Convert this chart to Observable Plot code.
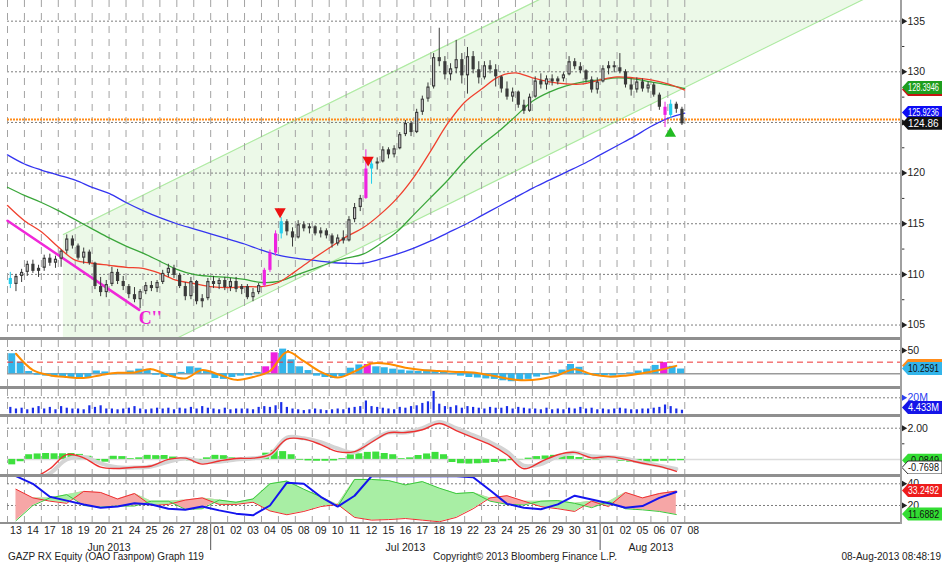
<!DOCTYPE html>
<html><head><meta charset="utf-8">
<script src="https://cdn.jsdelivr.net/npm/d3@7"></script>
<script src="https://cdn.jsdelivr.net/npm/@observablehq/plot@0.6"></script>
<style>
body{margin:0;background:#fff;}
#chart{position:relative;width:942px;height:562px;overflow:hidden;background:#fff;font-family:"Liberation Sans",Arial,sans-serif;}
#chart svg{position:absolute;left:0;}
.sep{position:absolute;left:0;width:901px;background:#8f8f8f;}
.foot{position:absolute;top:551px;font-size:10px;line-height:12px;color:#222;white-space:nowrap;}
</style></head><body><div id="chart"></div>
<script>
// ---------- DATA ----------
const dayLabels = ["13","14","17","18","19","20","21","24","25","26","27","28","01","02","03","04","05","08","09","10","11","12","15","16","17","18","19","22","23","24","25","26","29","30","31","01","02","05","06","07","08"];
const monthLabels = ["Jun 2013","Jul 2013","Aug 2013"];
const monthStart = [0, 12, 35];
const monthEnd = [12, 35, 41];

// intraday candles, 3 per trading day: [open, high, low, close]
const bars = [
[109.6,110.2,108.6,109.0],[109.0,110.0,108.3,109.8],[109.8,110.5,109.2,110.2],
[110.2,111.3,109.8,111.0],[111.0,111.4,110.1,110.3],[110.3,110.9,109.7,110.6],
[110.6,111.9,110.3,111.6],[111.6,112.0,110.8,111.1],[111.1,111.8,110.6,111.5],
[111.5,112.4,110.7,112.3],[112.3,113.9,112.0,113.5],[113.5,113.8,112.5,112.8],
[112.8,113.0,111.4,111.6],[111.6,112.6,111.0,112.2],[112.2,112.4,110.9,111.1],
[111.1,111.2,108.5,108.8],[108.8,109.7,107.8,108.2],[108.2,109.4,107.7,109.0],
[109.0,110.7,108.8,110.2],[110.2,110.5,109.0,109.3],[109.3,109.8,108.4,108.8],
[108.8,109.0,107.6,108.0],[108.0,108.7,107.2,107.5],[107.5,108.5,106.6,108.3],
[108.3,109.2,108.0,108.9],[108.9,109.3,108.3,108.6],[108.6,109.4,108.2,109.2],
[109.2,110.4,109.0,110.1],[110.1,111.0,109.7,110.6],[110.6,110.9,109.6,109.9],
[109.9,110.1,108.6,108.8],[108.8,109.2,107.4,107.8],[107.8,109.7,107.5,109.3],
[109.3,109.4,107.0,107.3],[107.3,108.0,106.7,107.6],[107.6,109.6,107.4,109.3],
[109.3,109.8,108.6,109.0],[109.0,109.6,108.5,109.4],[109.4,109.7,108.4,108.7],
[108.7,109.6,108.3,109.3],[109.3,109.7,108.2,108.5],[108.5,109.0,108.0,108.8],
[108.8,109.0,107.5,107.7],[107.7,108.6,107.3,108.2],[108.2,109.1,108.0,108.9],
[108.9,110.6,108.7,110.4],[110.4,112.4,110.2,112.1],[112.1,114.3,111.8,114.0],
[114.0,115.6,113.5,115.2],[115.2,115.4,113.8,114.2],[114.2,114.6,112.7,113.6],
[113.6,115.3,113.5,114.9],[114.9,115.2,114.2,114.5],[114.5,115.0,114.0,114.7],
[114.7,114.8,113.8,114.0],[114.0,114.6,113.6,114.3],[114.3,114.5,113.5,113.8],
[113.8,114.0,112.6,113.0],[113.0,113.9,112.8,113.6],[113.6,114.3,113.0,113.3],
[113.3,115.7,113.2,115.4],[115.4,117.0,115.1,116.6],[116.6,117.8,116.2,117.5],
[117.5,122.3,117.4,120.4],[120.4,121.3,118.9,120.9],[120.9,121.5,120.3,121.1],
[121.1,122.6,121.0,122.3],[122.3,122.5,121.4,121.8],[121.8,122.7,121.5,122.4],
[122.4,124.0,122.3,123.8],[123.8,125.2,123.6,124.9],[124.9,125.1,123.6,124.0],
[124.0,126.3,123.9,126.0],[126.0,127.6,125.7,127.3],[127.3,128.9,127.0,128.5],
[128.5,131.8,128.3,131.4],[131.4,134.3,130.5,131.0],[131.0,131.5,129.2,129.7],
[129.7,130.8,129.1,130.3],[130.3,133.1,129.8,131.2],[131.2,131.8,128.8,129.6],
[129.6,132.4,127.8,131.5],[131.5,132.0,129.8,130.2],[130.2,131.0,128.8,129.4],
[129.4,131.0,129.2,130.6],[130.6,131.1,129.8,130.2],[130.2,130.7,128.5,129.5],
[129.5,129.6,127.9,128.3],[128.3,129.0,127.2,127.5],[127.5,128.4,127.0,128.0],
[128.0,128.1,126.4,126.7],[126.7,127.2,125.8,126.1],[126.1,127.8,126.0,127.5],
[127.5,129.5,127.4,129.1],[129.1,129.8,128.3,128.7],[128.7,129.6,128.2,129.3],
[129.3,129.7,128.6,129.0],[129.0,129.5,128.7,129.3],[129.3,129.9,129.0,129.7],
[129.7,131.5,129.6,131.0],[131.0,131.3,130.2,130.5],[130.5,130.9,129.8,130.1],
[130.1,130.2,128.9,129.2],[129.2,129.5,127.9,128.2],[128.2,129.4,127.8,129.0],
[129.0,130.6,128.9,130.3],[130.3,131.0,129.7,130.6],[130.6,131.0,129.9,130.4],
[130.4,131.8,129.8,130.0],[130.0,130.2,128.4,128.7],[128.7,129.3,127.6,128.2],
[128.2,129.4,127.9,129.0],[129.0,129.3,128.0,128.3],[128.3,129.0,127.9,128.7],
[128.7,128.9,127.5,127.7],[127.7,127.9,126.2,126.5],[126.5,127.0,124.5,125.7],
[125.7,127.2,125.4,126.8],[126.8,127.0,125.9,126.3],[126.3,126.5,124.7,124.86]
];
const magentaBars = [45, 46, 47, 63, 116];
const cyanBars = [0, 48, 64, 117];

// moving averages at day boundaries 0..40
const maRed = [116.8,115.3,114.2,112.7,111.4,111.1,110.9,110.7,110.6,110.1,109.4,109.1,108.8,108.7,108.8,108.8,109.2,110.3,111.5,112.6,113.7,114.6,115.9,117.5,119.6,122.2,124.9,127.0,128.3,129.5,129.9,129.4,129.0,128.8,128.8,129.2,129.5,129.4,129.2,128.8,128.2];
const maGreen = [118.6,117.8,117.1,116.3,115.4,114.5,113.6,112.8,112.1,111.3,110.5,110.0,109.8,109.7,109.5,109.2,109.3,109.9,110.5,111.1,111.6,112.0,113.0,114.2,115.9,117.6,119.3,121.2,122.8,124.1,125.6,127.1,128.0,128.6,129.0,129.2,129.4,129.3,129.0,128.7,128.35];
const maBlue = [121.8,120.9,120.3,119.8,119.3,118.6,118.0,117.1,116.3,115.6,115.0,114.5,114.0,113.5,113.0,112.4,111.9,111.6,111.4,111.2,111.1,111.1,111.5,112.0,112.6,113.3,114.1,114.9,115.8,116.7,117.6,118.5,119.3,120.1,120.9,121.8,122.7,123.6,124.6,125.4,125.92];

// trend channel (day index, price)
const channelX = [3.3, 52.8];
const channelLow = [98.17, 139.01];
const channelHigh = [113.94, 154.78];
// magenta trend line
const trendX = [0, 7.78];
const trendY = [115.3, 106.5];
const orangeLevel = 125.3;
const sellX = [16.1, 21.3], sellY = [116.2, 121.3];
const buyX = [39.15], buyY = [123.9];
const priceTicks = [105,110,115,120,125,130,135];
const priceLabels = [105,110,115,120,130,135];
const priceMinor = [107.5,112.5,117.5,122.5,127.5,132.5];

// oscillator histogram (2 per day) and signal line (per day)
const oscHist = [43,25, 5,-3, -5,-7, -8,-9, -10,-8, 6,4, -2,0, 6,10, 8,-3, -8,-7, 3,15, 12,5, -10,-12, -8,-5, -4,3, 15,45, 53,30, 15,7, -5,-8, -10,-6, 12,19, 20,15, 13,10, 8,6, 5,8, 6,3, -2,-5, -8,-9, -11,-12, -15,-17, -15,-12, -7,-3, 3,8, 20,14, -3,-5, -4,-5, -2,2, 6,10, 18,24, 16,10.26];
const oscMagenta = [30, 31, 42, 77];
const oscLine = [43,8,-3,-7,-9,-3,2,3,10,-3,-10,8,-2,-13,-7,6,47,27,4,-8,5,22,21,13,8,6,4,3,-3,-10,-14,-11,-3,10,-1,-6,-4,1,8,17];

// volume, millions (3 per day)
const volume = [8,6,7, 5,7,9, 6,8,5, 9,7,6, 6,5,10, 8,10,6, 6,5,6, 7,9,6, 5,6,7, 6,7,5, 7,6,8, 6,9,7, 6,5,7, 5,6,6, 6,5,8, 9,8,10, 14,8,6, 5,4,5, 6,5,4, 5,6,5, 7,8,9, 16,9,8, 7,6,5, 8,7,9, 10,13,15, 28,12,9, 8,10,7, 9,8,7, 6,8,7, 7,9,6, 8,7,6, 6,5,7, 5,6,5, 7,6,8, 6,7,5, 6,5,6, 7,6,5, 5,6,6, 7,8,11, 9,6,4.433];

// MACD histogram (2 per day), MACD and signal (per day)
const macdHist = [-0.35,-0.15, 0.3,0.35, 0.38,0.36, 0.36,0.38, 0.32,0.2, -0.1,-0.18, 0.2,0.18, 0.05,0.1, 0.26,0.24, 0.25,0.15, -0.05,-0.1, -0.12,0.1, 0.26,0.24, 0.1,0.02, 0.0,0.1, 0.4,0.58, 0.5,0.3, -0.05,-0.1, -0.12,-0.12, -0.1,0.05, 0.3,0.36, 0.45,0.47, 0.38,0.3, 0.05,0.1, 0.25,0.35, 0.45,0.3, -0.2,-0.28, -0.3,-0.28, -0.25,-0.2, -0.15,-0.08, -0.02,0.08, 0.18,0.22, 0.26,0.22, 0.2,0.12, -0.05,-0.03, 0.1,0.06, -0.12,-0.18, -0.2,-0.18, -0.15,-0.12, -0.1,-0.0849];
const macdLine = [-1.5,-1.2,-0.6,0.31,0.1,-0.5,-0.58,-0.5,-0.42,0.0,0.08,-0.3,-0.1,0.06,0.08,0.3,1.3,1.3,0.95,0.5,0.5,1.1,1.7,1.72,1.9,2.3,1.85,1.4,0.95,0.3,-0.6,-0.15,0.3,0.45,0.1,0.18,0.0,-0.25,-0.45,-0.7698];
const macdSignal = [-1.5,-1.3,-0.9,0.0,0.15,-0.25,-0.5,-0.52,-0.45,-0.15,0.05,-0.15,-0.15,0.0,0.07,0.3,1.4,1.35,1.1,0.7,0.45,1.2,1.72,1.72,2.0,2.4,2.0,1.55,1.1,0.5,-0.4,-0.3,0.2,0.45,0.2,0.15,0.05,-0.2,-0.4,-0.62];

// DMI (per day)
const dmiRed = [35,27,24,22,33,32,26,31,20,21,25,27,21,21,23,15,11.5,14.5,19,21,9,6.5,7,8,6.5,5,9,17,27,29,24,19,17,14.5,24,19,32,27,31,33.2492];
const dmiGreen = [6,20,27,30,20,18.5,19.5,19.5,24,24,16.5,17,25,23,26,40,42.5,35,28,19,44,44,43,39,42,36,31,32,24,21,20.5,24,24.5,22,18,23.5,17,16,14.5,11.6882];
const dmiBlue = [47,40,28,24.5,21,18,19,22,21,17,16,19,15.5,12.5,11,20,41,40,28,19,29,47,47,47,47,47,47,46,34,21.5,18,16.6,21,29,25.5,22,18,19.5,27,32.5];

// last-value tags
const tagsMain = [[128.2,"","#c81414","#fff"],[128.3946,"128.3946","#1e9e1e","#fff"],[125.9236,"125.9236","#0c0cf5","#fff"],[124.86,"124.86","#111","#fff"]];
const tagsOsc = [[17,"","#ff8c1a","#111"],[10.2591,"10.2591","#33b5ea","#111"]];
const tagsVol = [[4.433,"4.433M","#1515e8","#fff"]];
const tagsMacd = [[-0.0849,"-0.0849","#33dd33","#111"],[-0.7698,"-0.7698","#fff","#111"]];
const tagsDmi = [[33.2492,"33.2492","#ee1c1c","#fff"],[11.6882,"11.6882","#33dd33","#111"]];

// ---------- RENDER ----------
const FONT = '"Liberation Sans", Arial, sans-serif';
const XMAX = 52.8;
const W = 942;
const chart = document.getElementById("chart");
const nDays = dayLabels.length;

function base(h, ydom, marks) {
  return Plot.plot({
    width: W, height: h, marginLeft: 7, marginRight: 41, marginTop: 0, marginBottom: 0,
    x: {domain: [0, XMAX], axis: null},
    y: {domain: ydom, axis: null},
    style: {background: "transparent", fontFamily: FONT, overflow: "hidden"},
    marks
  });
}
const vgrid = () => Plot.ruleX(d3.range(nDays), {stroke: "#a3a3a3", strokeDasharray: "7,6", strokeWidth: 1});
const hdots = (t) => Plot.ruleY(t, {stroke: "#7d7d7d", strokeDasharray: "2,2", strokeWidth: 1});
const tickArrows = (t, color) => Plot.dot(t, {x: XMAX, y: d => d, symbol: "triangle", rotate: 90, r: 2.4, fill: color || "#222", stroke: "none", dx: 2});
const tickText = (t, fmt, color) => Plot.text(t, {x: XMAX, y: d => d, text: fmt, dx: 6, textAnchor: "start", fontSize: 10.5, fill: color || "#222"});
const minorTicks = (t) => Plot.ruleY(t, {x1: XMAX, x2: XMAX + 0.2, stroke: "#333"});

function addTags(plot, h, tags) {
  const ys = plot.scale("y");
  const g = d3.select(plot).append("g").attr("font-family", FONT).attr("font-size", 10);
  for (const [v, txt, bg, fg] of tags) {
    let y = ys.apply(v);
    y = Math.min(Math.max(y, 6.5), h - 6.5);
    g.append("path")
      .attr("d", `M902,${y} L908,${y-6.5} L942,${y-6.5} L942,${y+6.5} L908,${y+6.5} Z`)
      .attr("fill", bg).attr("stroke", bg === "#fff" ? "#333" : "none");
    if (txt) {
      const t = g.append("text").attr("x", 908).attr("y", y).attr("dy", "0.36em")
        .attr("text-anchor", "start").attr("fill", fg).text(txt);
      if (t.node().getComputedTextLength() > 31) t.attr("textLength", 31).attr("lengthAdjust", "spacingAndGlyphs");
    }
  }
}
function place(plot, top) { plot.style.top = top + "px"; chart.appendChild(plot); return plot; }

// main panel
const channel = channelX.map((x, i) => ({x, lo: channelLow[i], hi: channelHigh[i]}));
const ma = maRed.map((r, i) => ({x: i, r, g: maGreen[i], b: maBlue[i]}));
const candles = bars.map(([o, h, l, c], k) => ({x: Math.floor(k / 3) + (k % 3 + 0.5) / 3, o, h, l, c, k}));
const plainC = candles.filter(d => !magentaBars.includes(d.k) && !cyanBars.includes(d.k));
const magC = candles.filter(d => magentaBars.includes(d.k));
const cyaC = candles.filter(d => cyanBars.includes(d.k));
const candleMarks = (data, color) => [
  Plot.ruleX(data, {x: "x", y1: "l", y2: "h", stroke: color, strokeWidth: 1}),
  Plot.ruleX(data, {x: "x", y1: "o", y2: "c", stroke: color, strokeWidth: 3.2})
];
const H1 = 337;
const p1 = base(H1, [103.77, 137.04], [
  Plot.areaY(channel, {x: "x", y1: "lo", y2: "hi", fill: "#ecf9e8", clip: true}),
  Plot.line(channel, {x: "x", y: "lo", stroke: "#aeeaa2", strokeWidth: 1.2, clip: true}),
  Plot.line(channel, {x: "x", y: "hi", stroke: "#aeeaa2", strokeWidth: 1.2, clip: true}),
  hdots(priceTicks),
  vgrid(),
  Plot.ruleY([orangeLevel], {stroke: "#ff8c1a", strokeWidth: 2, strokeDasharray: "2,1"}),
  Plot.line(ma, {x: "x", y: "b", stroke: "#3434f0", strokeWidth: 1.3, curve: "catmull-rom"}),
  Plot.line(ma, {x: "x", y: "g", stroke: "#3aa63a", strokeWidth: 1.3, curve: "catmull-rom"}),
  Plot.line(ma, {x: "x", y: "r", stroke: "#f0402e", strokeWidth: 1.3, curve: "catmull-rom"}),
  Plot.line(trendX.map((x, i) => ({x, y: trendY[i]})), {x: "x", y: "y", stroke: "#f028d8", strokeWidth: 2.5}),
  ...candleMarks(plainC, "#3a3a3a"),
  Plot.ruleX(plainC.filter(d => d.c - d.o > 0.35), {x: "x", y1: d => d.o + 0.12, y2: d => d.c - 0.12, stroke: "#c8c8c8", strokeWidth: 1.2}),
  ...candleMarks(magC, "#ee22e0"),
  ...candleMarks(cyaC, "#22cfee"),
  Plot.dot(sellX.map((x, i) => ({x, y: sellY[i]})), {x: "x", y: "y", symbol: "triangle", rotate: 180, r: 4.2, fill: "#ee1111", stroke: "none"}),
  Plot.dot(buyX.map((x, i) => ({x, y: buyY[i]})), {x: "x", y: "y", symbol: "triangle", r: 4.2, fill: "#22bb22", stroke: "none"}),
  Plot.text(["C''"], {x: 7.75, y: 105.7, text: d => d, textAnchor: "start", fontSize: 18, fontWeight: "bold", fill: "#ee22d8", fontFamily: '"Liberation Serif", serif'}),
  minorTicks(priceMinor),
  tickArrows(priceTicks),
  tickText(priceLabels, d => String(d))
]);
place(p1, 0); addTags(p1, H1, tagsMain);

// oscillator panel
const oscRows = oscHist.map((v, i) => ({x: Math.floor(i / 2) + (i % 2 ? 0.75 : 0.25), v, m: oscMagenta.includes(i)}));
const H2 = 46;
const p2 = base(H2, [-27.25, 71.46], [
  vgrid(), hdots([50]),
  Plot.ruleY([0], {stroke: "#9a9a9a", strokeWidth: 1.5}),
  Plot.ruleX(oscRows.filter(d => !d.m), {x: "x", y1: 0, y2: "v", stroke: "#33b5ea", strokeWidth: 7}),
  Plot.ruleX(oscRows.filter(d => d.m), {x: "x", y1: 0, y2: "v", stroke: "#ee22e0", strokeWidth: 7}),
  Plot.ruleY([25], {stroke: "#ee3333", strokeDasharray: "6,4", strokeWidth: 1}),
  Plot.line(oscLine.map((v, i) => ({x: i + 0.5, v})), {x: "x", y: "v", stroke: "#ff8c00", strokeWidth: 2, curve: "catmull-rom"}),
  tickArrows([50]), tickText([50], d => String(d))
]);
place(p2, 340); addTags(p2, H2, tagsOsc);

// volume panel
const volRows = volume.map((v, k) => ({x: Math.floor(k / 3) + (k % 3 + 0.5) / 3, v}));
const H3 = 25;
const p3 = base(H3, [-0.9, 30.4], [
  vgrid(), hdots([20]),
  Plot.ruleX(volRows, {x: "x", y1: 0, y2: "v", stroke: "#1a2ee8", strokeWidth: 2.2}),
  tickArrows([20], "#2a3ef0"), tickText([20], d => d + "M", "#2a3ef0")
]);
place(p3, 389); addTags(p3, H3, tagsVol);

// MACD panel
const mh = macdHist.map((v, i) => ({x: Math.floor(i / 2) + (i % 2 ? 0.75 : 0.25), v}));
const ml = macdLine.map((v, i) => ({x: i + 0.5, v, s: macdSignal[i]}));
const H4 = 57;
const p4 = base(H4, [-0.968, 2.686], [
  vgrid(), hdots([2]),
  Plot.ruleY([0], {stroke: "#dcdcdc", strokeWidth: 1.5}),
  Plot.ruleX(mh, {x: "x", y1: 0, y2: "v", stroke: "#3ee03e", strokeWidth: 7}),
  Plot.line(ml, {x: "x", y: "s", stroke: "#d4d4d4", strokeWidth: 4, curve: "catmull-rom", clip: true}),
  Plot.line(ml, {x: "x", y: "v", stroke: "#ee3030", strokeWidth: 1.4, curve: "catmull-rom", clip: true}),
  minorTicks([1]),
  tickArrows([2]), tickText([2], d => d.toFixed(2))
]);
place(p4, 417); addTags(p4, H4, tagsMacd);

// DMI panel
const dmi = dmiRed.map((r, i) => ({x: i + 0.5, r, g: dmiGreen[i], b: dmiBlue[i], m: Math.max(r, dmiGreen[i])}));
const H5 = 45;
const p5 = base(H5, [4.33, 45.8], [
  vgrid(), hdots([40, 20]),
  Plot.areaY(dmi, {x: "x", y1: "g", y2: "m", fill: "#f6a6a6", clip: true}),
  Plot.areaY(dmi, {x: "x", y1: "r", y2: "m", fill: "#a8eea4", clip: true}),
  Plot.line(dmi, {x: "x", y: "r", stroke: "#ee3030", strokeWidth: 1, clip: true}),
  Plot.line(dmi, {x: "x", y: "g", stroke: "#3cc83c", strokeWidth: 1, clip: true}),
  Plot.line(dmi, {x: "x", y: "b", stroke: "#1414ee", strokeWidth: 2, clip: true}),
  tickArrows([40, 20]), tickText([40, 20], d => String(d))
]);
place(p5, 477); addTags(p5, H5, tagsDmi);

// date axis
const pa = Plot.plot({
  width: W, height: 32, marginLeft: 7, marginRight: 41, marginTop: 0, marginBottom: 0,
  x: {domain: [0, XMAX], axis: null},
  y: {domain: [32, 0], axis: null},
  style: {background: "transparent", fontFamily: FONT},
  marks: [
    Plot.text(dayLabels, {x: (d, i) => i + 0.5, y: 7.5, text: d => d, fontSize: 10.5, fill: "#222"}),
    Plot.text(monthLabels, {x: (d, i) => (monthStart[i] + monthEnd[i]) / 2, y: 24, text: d => d, fontSize: 10.5, fill: "#222"}),
    Plot.ruleX(monthStart.slice(1), {y1: 0, y2: 27, stroke: "#555"})
  ]
});
place(pa, 523);

// panel separators and right axis line
for (const [t, h] of [[337, 3], [386, 3], [414, 3], [474, 3], [522, 2]]) {
  const d = document.createElement("div"); d.className = "sep";
  d.style.top = t + "px"; d.style.height = h + "px"; chart.appendChild(d);
}
const ax = document.createElement("div");
Object.assign(ax.style, {position: "absolute", left: "900px", top: "0px", width: "2px", height: "524px", background: "#a0a0a0"});
chart.appendChild(ax);

// footer
const footLeft = document.createElement("div"); footLeft.className = "foot";
footLeft.style.left = "8px"; footLeft.textContent = "GAZP RX Equity (ОАО Газпром) Graph 119"; chart.appendChild(footLeft);
const footMid = document.createElement("div"); footMid.className = "foot";
footMid.style.left = "433px"; footMid.textContent = "Copyright© 2013 Bloomberg Finance L.P."; chart.appendChild(footMid);
const footRight = document.createElement("div"); footRight.className = "foot";
footRight.style.right = "1px"; footRight.textContent = "08-Aug-2013 08:48:19"; chart.appendChild(footRight);
</script></body></html>
